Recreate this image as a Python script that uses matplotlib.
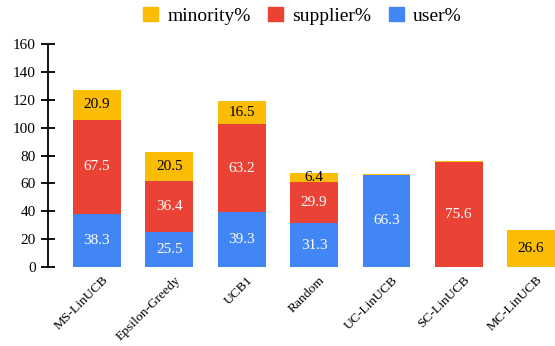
import numpy as np
import matplotlib.pyplot as plt
import matplotlib.transforms as mtransforms
from matplotlib.patches import Patch

plt.rcParams['font.family'] = ['Liberation Serif', 'DejaVu Serif']

methods = ['MS-LinUCB', 'Epsilon-Greedy', 'UCB1', 'Random', 'UC-LinUCB', 'SC-LinUCB', 'MC-LinUCB']
user = [38.3, 25.5, 39.3, 31.3, 66.3, 0, 0]
supplier = [67.5, 36.4, 63.2, 29.9, 0, 75.6, 0]
minority = [20.9, 20.5, 16.5, 6.4, 0.6, 0.6, 26.6]

c_user = '#4285F4'
c_sup = '#EA4335'
c_min = '#FBBC04'

fig = plt.figure(figsize=(5.55, 3.46), dpi=100)
ax = fig.add_axes([0.0865, 0.228, 0.9135, 0.645])

x = np.arange(len(methods))
w = 0.66
user = np.array(user)
supplier = np.array(supplier)
minority = np.array(minority)

ax.bar(x, user, w, color=c_user)
ax.bar(x, supplier, w, bottom=user, color=c_sup)
ax.bar(x, minority, w, bottom=user + supplier, color=c_min)

# segment labels
for i in range(len(methods)):
    if user[i] > 2:
        ax.text(x[i], user[i] / 2, f'{user[i]:.1f}', ha='center', va='center', color='white', fontsize=11)
    if supplier[i] > 2:
        ax.text(x[i], user[i] + supplier[i] / 2, f'{supplier[i]:.1f}', ha='center', va='center', color='white', fontsize=11)
    if minority[i] > 2:
        ax.text(x[i], user[i] + supplier[i] + minority[i] / 2, f'{minority[i]:.1f}', ha='center', va='center', color='black', fontsize=11)

ax.set_xlim(-0.677, 6.33)
ax.set_ylim(0, 160)
ax.set_yticks(range(0, 161, 20))
ax.set_xticks(x)
ax.set_xticklabels(methods, rotation=45, ha='right', rotation_mode='anchor', fontsize=9.7)
ax.tick_params(axis='x', length=0, pad=5)
shift = mtransforms.ScaledTranslation(5 / 100, 0, fig.dpi_scale_trans)
for lbl in ax.get_xticklabels():
    lbl.set_transform(lbl.get_transform() + shift)
ax.tick_params(axis='y', direction='inout', length=9.5, width=1.3, labelsize=11, pad=4)

for s in ['top', 'right', 'bottom']:
    ax.spines[s].set_visible(False)
ax.spines['left'].set_linewidth(1.3)

handles = [Patch(color=c_min, label='minority%'),
           Patch(color=c_sup, label='supplier%'),
           Patch(color=c_user, label='user%')]
fig.legend(handles=handles, loc='upper center', bbox_to_anchor=(0.545, 1.03), ncol=3,
           frameon=False, fontsize=14, handlelength=0.75, handleheight=0.75,
           handletextpad=0.5, columnspacing=0.9)

fig.savefig('out.png', dpi=100)
